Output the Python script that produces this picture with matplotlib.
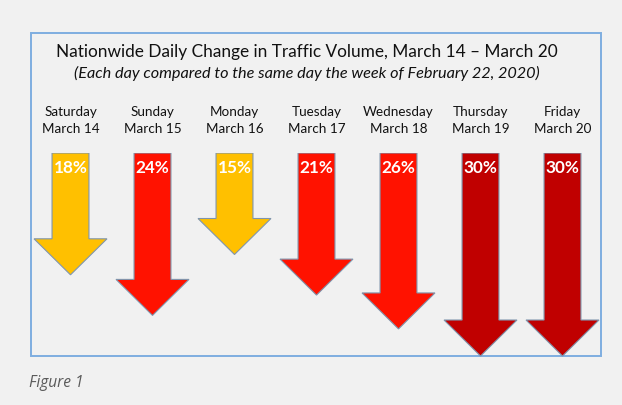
import matplotlib
matplotlib.use("Agg")
import matplotlib.pyplot as plt
from matplotlib.patches import Polygon, Rectangle

# data
days = ["Saturday", "Sunday", "Monday", "Tuesday", "Wednesday", "Thursday", "Friday"]
dates = ["March 14", "March 15", "March 16", "March 17", "March 18", "March 19", "March 20"]
change_pct = [18, 24, 15, 21, 26, 30, 30]
arrow_colors = ["#ffc000", "#ff1200", "#ffc000", "#ff1200", "#ff1200", "#c00000", "#c00000"]

title = "Nationwide Daily Change in Traffic Volume, March 14 \u2013 March 20"
subtitle = "(Each day compared to the same day the week of February 22, 2020)"

W, H = 622, 405
BG = "#f1f1f1"
FONT = "Lato"

fig = plt.figure(figsize=(W / 100, H / 100), dpi=100)
fig.patch.set_facecolor(BG)

# layout axes in pixel units (for frame and text)
lay = fig.add_axes([0, 0, 1, 1])
lay.set_xlim(0, W)
lay.set_ylim(H, 0)
lay.axis("off")
lay.patch.set_alpha(0)

lay.add_patch(Rectangle((31, 33), 570, 323, fill=False, edgecolor="#7eaee0", linewidth=1.4))

lay.text(307, 57, title, ha="center", va="baseline", fontsize=12.4, family=FONT, color="#111111")
lay.text(307, 78, subtitle, ha="center", va="baseline", fontsize=11.7, family=FONT,
         style="italic", color="#111111")

# arrow axes: x = day index, y = percent drop (downwards)
px_per_pct = 6.767
top_px = 153
ax = fig.add_axes([29.5 / W, 0, 574 / W, (H - top_px) / H])
ax.set_xlim(-0.5, len(days) - 0.5)
ax.set_ylim((H - top_px) / px_per_pct, 0)
ax.axis("off")
ax.patch.set_alpha(0)

shaft_w = 0.45
head_w = 0.89
head_h = 36 / px_per_pct

for i, (d, dt, v, c) in enumerate(zip(days, dates, change_pct, arrow_colors)):
    pts = [
        (i - shaft_w / 2, 0),
        (i + shaft_w / 2, 0),
        (i + shaft_w / 2, v - head_h),
        (i + head_w / 2, v - head_h),
        (i, v),
        (i - head_w / 2, v - head_h),
        (i - shaft_w / 2, v - head_h),
    ]
    ax.add_patch(Polygon(pts, closed=True, facecolor=c, edgecolor="#7f95ad", linewidth=0.8))
    ax.text(i, 3.0, f"{v}%", ha="center", va="baseline", fontsize=12.3, family=FONT,
            weight="bold", color="white")
    # day labels above the arrows
    ax.text(i, -(153 - 116) / px_per_pct, d, ha="center", va="baseline", fontsize=9.7,
            family=FONT, color="#111111", clip_on=False)
    ax.text(i, -(153 - 133) / px_per_pct, dt, ha="center", va="baseline", fontsize=9.7,
            family=FONT, color="#111111", clip_on=False)

lay.text(29, 387, "Figure 1", ha="left", va="baseline", fontsize=11.2, family="Open Sans",
         style="italic", color="#5a5a5a")

fig.savefig("out.png", dpi=100, facecolor=BG)
